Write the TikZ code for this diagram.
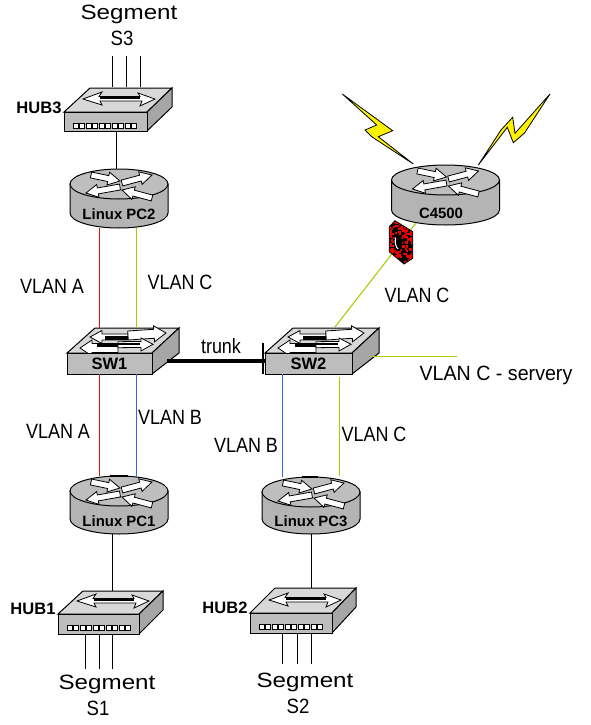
\documentclass[tikz,border=0pt]{standalone}
\usepackage{fontspec}
\setmainfont{Liberation Sans}
\usetikzlibrary{calc}
\definecolor{vlanA}{HTML}{E01010}
\definecolor{vlanB}{HTML}{2F66F0}
\definecolor{vlanC}{HTML}{A8CC00}
\definecolor{topgray}{HTML}{D8D8D8}
\definecolor{frontgray}{HTML}{BDBDBD}
\definecolor{sidegray}{HTML}{A6A6A6}
\definecolor{routertop}{HTML}{BEBEBE}
\definecolor{routerbody}{HTML}{B4B4B4}
\tikzset{
  portx/.style={xshift=#1*0.75pt},
  porty/.style={yshift=#1*0.75pt},
  edge/.style={draw=black,line width=0.75pt,line join=miter},
  lan/.style={draw=black,line width=0.8pt},
  vlinea/.style={draw=vlanA,line width=0.8pt},
  vlineb/.style={draw=vlanB,line width=0.8pt},
  vlinec/.style={draw=vlanC,line width=0.8pt},
  trunkline/.style={draw=black,line width=2.4pt},
  anchorbox/.style={inner sep=0pt,outer sep=0pt,rectangle},
  biglabel/.style={inner sep=0pt,font=\fontsize{15.5}{18}\selectfont,xscale=1.17,transform shape},
  biglabelb/.style={inner sep=0pt,font=\fontsize{15.5}{18}\selectfont,xscale=0.9,transform shape},
  vlabel/.style={inner sep=0pt,font=\fontsize{15.5}{18}\selectfont,xscale=0.87,transform shape},
  vlabelw/.style={inner sep=0pt,font=\fontsize{15.5}{18}\selectfont,xscale=0.95,transform shape},
  devlabel/.style={inner sep=0pt,font=\bfseries\fontsize{11.2}{12}\selectfont},
  hublabel/.style={inner sep=0pt,font=\bfseries\fontsize{12.4}{14}\selectfont},
}
% white arrow from (#2,#3) to tip (#4,#5), shaft half-width #1
\newcommand\whitearrow[5][3]{%
  \pgfmathsetmacro\aang{atan2(-((#5)-(#3)),(#4)-(#2))}%
  \pgfmathsetmacro\alen{veclen((#4)-(#2),(#5)-(#3))}%
  \begin{scope}[shift={(#2,#3)},rotate=\aang,y=0.75pt]
    \fill[white,draw=black,line width=0.6pt,line join=miter]
      (0,-#1) -- (\alen-12,-#1) -- (\alen-12,-#1-3.5) -- (\alen,0)
      -- (\alen-12,#1+3.5) -- (\alen-12,#1) -- (0,#1) -- cycle;
  \end{scope}}
\newcommand\routerbody[5]{% name, cx, cy, rx, h
  \fill[routerbody,edge] (#2-#4,#3) -- (#2-#4,#3+#5)
     arc[start angle=180,end angle=0,x radius=#4,y radius=15] -- (#2+#4,#3) -- cycle;
  \fill[routertop,edge] (#2,#3) ellipse[x radius=#4,y radius=15];
  \whitearrow[3]{#2-28}{#3-9}{#2+1}{#3-3}
  \whitearrow[3]{#2+3}{#3-1}{#2+33}{#3-9}
  \whitearrow[3]{#2+1}{#3+3}{#2-33}{#3+9}
  \whitearrow[3]{#2+33}{#3+14}{#2+3}{#3+6}
  \node[anchorbox,minimum width=1.5*#4 pt,minimum height=1.5*15pt+0.75*#5 pt] (#1) at (#2,#3+#5/2) {};
}
\newcommand\hubshape[7]{% name, x, y, w, h, dx, dy
  \fill[topgray,edge] (#2,#3) -- (#2+#6,#3-#7) -- (#2+#4+#6-1,#3-#7) -- (#2+#4,#3) -- cycle;
  \fill[sidegray,edge] (#2+#4,#3) -- (#2+#4+#6-1,#3-#7) -- (#2+#4+#6-1,#3-#7+19) -- (#2+#4,#3+#5) -- cycle;
  \node[anchorbox,draw=black,line width=0.75pt,fill=frontgray,minimum width=0.75pt*#4,minimum height=0.75pt*#5,anchor=north west] (#1) at (#2,#3) {};
  \foreach \i in {0,...,9}
    \fill[white,draw=black,line width=0.75pt] (#2+9+\i*6.5,#3+11) rectangle +(5,5.5);
  % double-headed arrow on the top face
  \fill[white,edge,line width=0.6pt] (#2+19,#3-13) -- (#2+38,#3-20) -- (#2+35,#3-15.5) -- (#2+76,#3-15.5)
     -- (#2+74,#3-19) -- (#2+91,#3-13) -- (#2+76,#3-6) -- (#2+78,#3-11) -- (#2+36,#3-11) -- (#2+38,#3-7) -- cycle;
  \fill[black] (#2+36,#3-15.5) rectangle (#2+76,#3-13);
}
\newcommand\switchshape[4]{% name, x, w, label
  \fill[topgray,edge] (#2,353) -- (#2+28,328) -- (#2+#3+27,328) -- (#2+#3,353) -- cycle;
  \fill[sidegray,edge] (#2+#3,353) -- (#2+#3+27,328) -- (#2+#3+27,353) -- (#2+#3,374) -- cycle;
  \whitearrow[3]{#2+61}{337}{#2+23}{337}
  \fill[black] (#2+38,335.5) rectangle (#2+61,339.5);
  \whitearrow[4.5]{#2+61}{335.5}{#2+99}{333}
  \whitearrow[4.5]{#2+51}{348}{#2+13}{348}
  \fill[black] (#2+30,344) rectangle (#2+51,346.5);
  \whitearrow[3]{#2+51}{344.7}{#2+86}{344.3}
  \fill[black] (#2+51,342.5) rectangle (#2+73,345);
  \node[anchorbox,draw=black,line width=0.75pt,fill=frontgray,minimum width=0.75pt*#3,minimum height=15.75pt,anchor=north west,font=\bfseries\fontsize{12.4}{14}\selectfont] (#1) at (#2,353) {#4};
}
\begin{document}
\begin{tikzpicture}[x=0.75pt,y=-0.75pt]
\useasboundingbox (0,0) rectangle (591,725);
% ---------- devices
\hubshape{hub3}{64}{112}{83}{19}{26}{24}
\hubshape{hub1}{58}{614}{81}{20}{25}{23}
\hubshape{hub2}{250}{613}{82}{20}{25}{25}
\routerbody{pc2}{119}{184}{49}{29}
\routerbody{pc1}{119}{491}{49}{28}
\routerbody{pc3}{311}{492}{49}{27}
\routerbody{c4500}{445.5}{180}{54}{30}
\fill[black] (110,475) rectangle (128,477);
\fill[black] (302,476) rectangle (318,478);
\switchshape{sw1}{67}{85}{SW1}
\switchshape{sw2}{265}{87}{SW2}
% device labels
\node[devlabel] (pc2label) at (119,214) {Linux PC2};
\node[devlabel] (pc1label) at (119,521) {Linux PC1};
\node[devlabel] (pc3label) at (311,521) {Linux PC3};
\node[devlabel] (c4500label) at (441,213) {C4500};
\node[hublabel] (hub3label) at (39,107.5) {HUB3};
\node[hublabel] (hub1label) at (33,609) {HUB1};
\node[hublabel] (hub2label) at (225,608) {HUB2};
% ---------- free ends
\coordinate (s3a) at (112.5,56);
\coordinate (s3b) at (126.5,56);
\coordinate (s3c) at (140.5,56);
\coordinate (s1a) at (85.5,669);
\coordinate (s1b) at (99.5,669);
\coordinate (s1c) at (112.5,669);
\coordinate (s2a) at (282.5,664);
\coordinate (s2b) at (297.5,664);
\coordinate (s2c) at (311.5,664);
\coordinate (servers) at (457,356.5);
% ---------- connectors
\draw[lan] (s3a) -- ([portx=7,porty=25]hub3.north);
\draw[lan] (s3b) -- ([portx=21,porty=25]hub3.north);
\draw[lan] (s3c) -- ([portx=35,porty=25]hub3.north);
\draw[lan] ([portx=11]hub3.south) -- ([portx=-2.5]pc2.north);
\draw[vlinea] ([portx=-19.5]pc2.south) -- ([portx=-10,porty=25]sw1.north);
\draw[vlinec] ([portx=17.5]pc2.south) -- ([portx=27,porty=25]sw1.north);
\draw[vlinea] ([portx=-10]sw1.south) -- ([portx=-19.5]pc1.north);
\draw[vlineb] ([portx=27]sw1.south) -- ([portx=17.5]pc1.north);
\draw[vlineb] ([portx=-26]sw2.south) -- ([portx=-28.5]pc3.north);
\draw[vlinec] ([portx=31,porty=-3]sw2.south) -- ([portx=28.5,porty=1]pc3.north);
\draw[vlinec] ([portx=20,porty=7]sw2.east) -- (servers);
\draw[trunkline] ([portx=15,porty=2.5]sw1.east) -- ([porty=2.5]sw2.west);
\draw[lan] ([portx=-2,porty=20.5]sw2.west) -- ([portx=-2,porty=-10.5]sw2.west);
\draw[vlinec] ([portx=26.5,porty=26]sw2.north) -- ([portx=-29.5,porty=2]c4500.south);
\draw[lan] ([portx=-6.5]pc1.south) -- ([portx=14,porty=23]hub1.north);
\draw[lan] ([portx=-13]hub1.south) -- (s1a);
\draw[lan] ([portx=1]hub1.south) -- (s1b);
\draw[lan] ([portx=14]hub1.south) -- (s1c);
\draw[lan] ([portx=0.5]pc3.south) -- ([portx=20.5,porty=25]hub2.north);
\draw[lan] ([portx=-8.5]hub2.south) -- (s2a);
\draw[lan] ([portx=6.5]hub2.south) -- (s2b);
\draw[lan] ([portx=20.5]hub2.south) -- (s2c);
% ---------- lightning bolts
\fill[yellow,edge,line width=0.6pt] (342.3,94) -- (392.7,130.7) -- (378.3,136.7) -- (413.3,164) -- (371.7,136.7) -- (365,130) -- (376.7,125) -- cycle;
\fill[yellow,edge,line width=0.6pt] (550,94) -- (524.5,133) -- (513.3,142.7) -- (507.3,127.3) -- (478.3,165) -- (501,130) -- (512.7,117.3) -- (515,133.3) -- cycle;
% ---------- firewall
\begin{scope}
  \path[clip] (395,220.7) -- (412.7,231.7) -- (412.7,258.3) -- (404,264) -- (389.3,251.7) -- (389.3,226.7) -- cycle;
  \fill[black] (385,218) rectangle (416,266);
  \pgfmathsetseed{7}
  \foreach \i in {1,...,170} {
    \pgfmathsetmacro\fx{388+25*rnd}
    \pgfmathsetmacro\fy{220+45*rnd}
    \fill[red!95!black] (\fx,\fy) rectangle +(2.2,2.2);
  }
  \fill[black] (398,243) ellipse[x radius=4.2,y radius=8.5];
  \draw[white,line width=0.8pt] (395.5,237.5) .. controls (394.5,243) and (396,247) .. (398,249);
\end{scope}
\draw[edge,line width=0.6pt] (395,220.7) -- (412.7,231.7) -- (412.7,258.3) -- (404,264) -- (389.3,251.7) -- (389.3,226.7) -- cycle;
% ---------- labels
\node[biglabel] (t3) at (129,14) {Segment};
\node[biglabelb] (t3b) at (122,38) {S3};
\node[biglabel] (t1) at (107,684) {Segment};
\node[biglabelb] (t1b) at (98,708) {S1};
\node[biglabel] (t2) at (305,682) {Segment};
\node[biglabelb] (t2b) at (298,706) {S2};
\node[vlabel] (la1) at (52,286) {VLAN A};
\node[vlabel] (lc1) at (180,282) {VLAN C};
\node[vlabel] (la2) at (58,431) {VLAN A};
\node[vlabel] (lb1) at (170,417) {VLAN B};
\node[vlabel] (lb2) at (246,445) {VLAN B};
\node[vlabel] (lc2) at (374,434) {VLAN C};
\node[vlabel] (lc3) at (417,295) {VLAN C};
\node[vlabelw] (lc4) at (496,375) {VLAN C - servery};
\node[vlabel] (ltrunk) at (221,346) {trunk};
\end{tikzpicture}
\end{document}
